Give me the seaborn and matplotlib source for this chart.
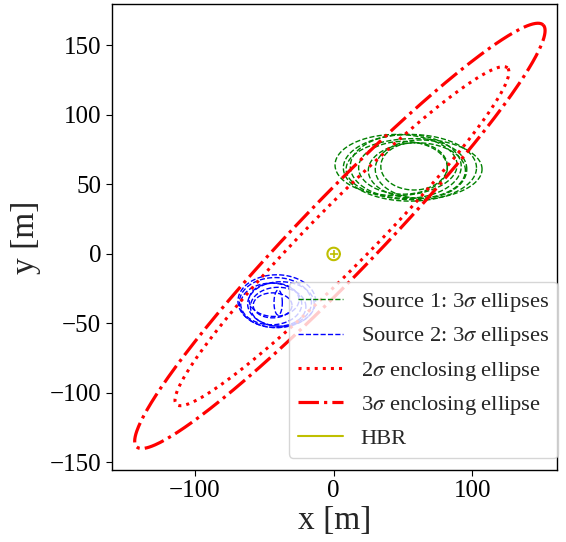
import numpy as np
import pandas as pd
import matplotlib
matplotlib.use("Agg")
import matplotlib.pyplot as plt
from matplotlib.lines import Line2D
import seaborn as sns

# ---- data ----
# Source 1 3-sigma ellipses: centre x, centre y, semi-axis x, semi-axis y
src1_cx = [45, 55, 58, 50, 60, 58, 52, 63]
src1_cy = [64, 62, 61, 62, 60, 63, 63, 61]
src1_ax = [44, 48, 49, 32, 35, 24, 40, 33]
src1_ay = [22, 24, 22, 19, 20, 17, 23, 21]

# Source 2 3-sigma ellipses
src2_cx = [-42, -45, -40, -43, -38, -44, -41, -40]
src2_cy = [-35, -36, -38, -33, -36, -37, -34, -35]
src2_ax = [26, 22, 20, 18, 24, 14, 28, 3]
src2_ay = [18, 15, 14, 12, 16, 9, 19, 9]

# Enclosing ellipses: centre, semi-major, semi-minor, angle (deg)
enc2_c, enc2_a, enc2_b, enc2_ang = (6.0, 12.8), 170.0, 22.0, 45.4
enc3_c, enc3_a, enc3_b, enc3_ang = (4.5, 13.0), 211.0, 28.0, 46.0

# Hard body radius
hbr_r = 4.5

x_ticks = [-100, 0, 100]
y_ticks = [-150, -100, -50, 0, 50, 100, 150]

GREEN, BLUE, RED, YELLOW = "#008000", "#0000ff", "#ff0000", "#bfbf00"

# ---- style ----
sns.set_theme(style="ticks", color_codes=False)
plt.rcParams["font.family"] = ["Liberation Serif", "DejaVu Serif"]
plt.rcParams["mathtext.fontset"] = "stix"
plt.rcParams["axes.edgecolor"] = "black"
plt.rcParams["xtick.color"] = "black"
plt.rcParams["ytick.color"] = "black"

t = np.linspace(0, 2 * np.pi, 361)


def ellipse_df(cx, cy, a, b, ang=0.0):
    th = np.deg2rad(ang)
    ex = a * np.cos(t)
    ey = b * np.sin(t)
    return pd.DataFrame({
        "x": cx + ex * np.cos(th) - ey * np.sin(th),
        "y": cy + ex * np.sin(th) + ey * np.cos(th),
    })


fig = plt.figure(figsize=(5.66, 5.42), dpi=100)
ax = fig.add_axes([0.1974, 0.1328, 0.7866, 0.8589])

for cx, cy, a, b in zip(src1_cx, src1_cy, src1_ax, src1_ay):
    sns.lineplot(data=ellipse_df(cx, cy, a, b), x="x", y="y", sort=False,
                 estimator=None, color=GREEN, linestyle="--", linewidth=1.0, ax=ax)

for cx, cy, a, b in zip(src2_cx, src2_cy, src2_ax, src2_ay):
    sns.lineplot(data=ellipse_df(cx, cy, a, b), x="x", y="y", sort=False,
                 estimator=None, color=BLUE, linestyle="--", linewidth=1.0, ax=ax)

sns.lineplot(data=ellipse_df(enc2_c[0], enc2_c[1], enc2_a, enc2_b, enc2_ang),
             x="x", y="y", sort=False, estimator=None, color=RED,
             linestyle=":", linewidth=2.2, ax=ax)
sns.lineplot(data=ellipse_df(enc3_c[0], enc3_c[1], enc3_a, enc3_b, enc3_ang),
             x="x", y="y", sort=False, estimator=None, color=RED,
             linestyle="-.", linewidth=2.3, ax=ax)

sns.lineplot(data=ellipse_df(0, 0, hbr_r, hbr_r), x="x", y="y", sort=False,
             estimator=None, color=YELLOW, linestyle="-", linewidth=1.5, ax=ax)
sns.scatterplot(x=[0], y=[0], marker="+", color=YELLOW, s=30, linewidth=1.2, ax=ax)

ax.set_xlim(-160, 161)
ax.set_ylim(-155.5, 179.5)
ax.set_xticks(x_ticks)
ax.set_yticks(y_ticks)
ax.tick_params(labelsize=18, length=4, width=0.8)
ax.set_xlabel("x [m]", fontsize=24, labelpad=2)
ax.set_ylabel("y [m]", fontsize=24, labelpad=6)
for s in ax.spines.values():
    s.set_linewidth(1.0)

handles = [
    Line2D([], [], color=GREEN, ls="--", lw=1.0),
    Line2D([], [], color=BLUE, ls="--", lw=1.0),
    Line2D([], [], color=RED, ls=":", lw=2.2),
    Line2D([], [], color=RED, ls="-.", lw=2.3),
    Line2D([], [], color=YELLOW, ls="-", lw=1.5),
]
labels = [
    r"Source 1: 3$\sigma$ ellipses",
    r"Source 2: 3$\sigma$ ellipses",
    r"2$\sigma$ enclosing ellipse",
    r"3$\sigma$ enclosing ellipse",
    "HBR",
]
ax.legend(handles, labels, loc="lower right", fontsize=16.2, frameon=True,
          bbox_to_anchor=(1.002, 0.026), borderaxespad=0.0)

fig.savefig("out.png", dpi=100)
